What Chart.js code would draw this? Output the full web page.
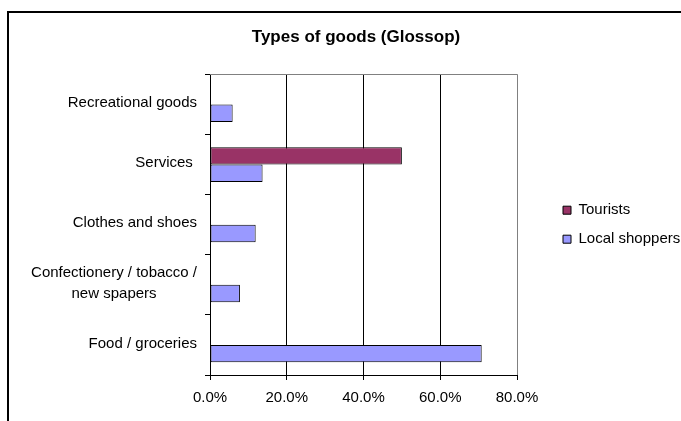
<!DOCTYPE html>
<html>
<head>
<meta charset="utf-8">
<title>Types of goods (Glossop)</title>
<style>
  html, body { margin: 0; padding: 0; overflow: hidden; background: #fff; }
  canvas { display: block; }
</style>
<script src="https://cdn.jsdelivr.net/npm/chart.js@4/dist/chart.umd.min.js"></script>
</head>
<body>
<canvas id="goods" width="712" height="421"></canvas>
<script>
// Categories, top to bottom
const categories = [
  'Recreational goods',
  'Services ',
  'Clothes and shoes',
  ['Confectionery / tobacco /', 'new spapers'],
  'Food / groceries'
];
// Share of respondents buying each type of goods (%)
const tourists = [0, 50, 0, 0, 0];
const localShoppers = [5.9, 13.7, 11.9, 7.8, 70.8];
// Value axis ticks (%)
const xTicks = [0, 20, 40, 60, 80];

const FONT = "'Liberation Sans', Arial, Helvetica, sans-serif";
const LABEL_SIZE = 15;
const LABEL_LINE = 21;     // line spacing of wrapped category labels
const LABEL_PAD = 8;       // gap between category labels and tick marks
const LEGEND_GAP = 32;     // space between plot and legend
const LEGEND_WIDTH = 163;

// Outer chart frame and white background
const chartFrame = {
  id: 'chartFrame',
  beforeDraw(chart) {
    const ctx = chart.ctx;
    ctx.save();
    ctx.fillStyle = '#fff';
    ctx.fillRect(0, 0, chart.width, chart.height);
    ctx.strokeStyle = '#000';
    ctx.lineWidth = 2;
    ctx.strokeRect(8, 12, chart.width + 40, chart.height + 40);
    ctx.restore();
  }
};

// Grey top edge of the plot area
const plotEdge = {
  id: 'plotEdge',
  beforeDatasetsDraw(chart) {
    const {ctx, chartArea: a} = chart;
    ctx.save();
    ctx.strokeStyle = '#808080';
    ctx.lineWidth = 1;
    ctx.beginPath();
    ctx.moveTo(a.left, Math.round(a.top) + 0.5);
    ctx.lineTo(a.right + 0.5, Math.round(a.top) + 0.5);
    ctx.stroke();
    ctx.restore();
  }
};

// Category labels: block right-aligned to the axis, wrapped lines centred on each other
const categoryLabels = {
  id: 'categoryLabels',
  afterDraw(chart) {
    const scale = chart.scales.y;
    const ctx = chart.ctx;
    const right = scale.right - scale.options.grid.tickLength - LABEL_PAD;
    ctx.save();
    ctx.font = LABEL_SIZE + 'px ' + FONT;
    ctx.fillStyle = '#000';
    ctx.textAlign = 'center';
    ctx.textBaseline = 'middle';
    categories.forEach((label, i) => {
      const lines = [].concat(label);
      const widest = Math.max(...lines.map(l => ctx.measureText(l).width));
      const cx = right - widest / 2;
      const cy = scale.getPixelForValue(i) - 1.5;
      lines.forEach((line, k) => {
        ctx.fillText(line, cx, cy + (k - (lines.length - 1) / 2) * LABEL_LINE);
      });
    });
    ctx.restore();
  }
};

// Spacer box between plot and legend, and a fixed legend column width
const legendSpacing = {
  id: 'legendSpacing',
  beforeInit(chart) {
    Chart.layouts.addBox(chart, {
      position: 'right', weight: 1, fullSize: false, options: {},
      left: 0, top: 0, right: 0, bottom: 0, width: 0, height: 0,
      isHorizontal() { return false; },
      update(maxWidth, maxHeight) { this.width = LEGEND_GAP; this.height = maxHeight; },
      draw() {}
    });
  },
  beforeLayout(chart) {
    const legend = chart.legend;
    if (legend && !legend._fixedWidth) {
      const fit = legend.fit.bind(legend);
      legend.fit = function () { fit(); legend.width = LEGEND_WIDTH; };
      legend._fixedWidth = true;
    }
  }
};

new Chart(document.getElementById('goods'), {
  type: 'bar',
  data: {
    labels: categories,
    datasets: [
      {
        label: 'Tourists',
        data: tourists,
        backgroundColor: '#993366',
        borderColor: '#000',
        borderWidth: 1,
        borderSkipped: false,
        inflateAmount: 0
      },
      {
        label: 'Local shoppers',
        data: localShoppers,
        backgroundColor: '#9999FF',
        borderColor: '#000',
        borderWidth: 1,
        borderSkipped: false,
        inflateAmount: 0
      }
    ]
  },
  options: {
    indexAxis: 'y',
    responsive: false,
    animation: false,
    devicePixelRatio: 1,
    categoryPercentage: 0.58,
    barPercentage: 1,
    layout: { padding: 0 },
    plugins: {
      title: {
        display: true,
        text: 'Types of goods (Glossop)',
        color: '#000',
        font: { family: FONT, size: 17, weight: 'bold' },
        padding: { top: 27, bottom: 27 }
      },
      legend: {
        position: 'right',
        fullSize: false,
        align: 'center',
        labels: {
          color: '#000',
          font: { family: FONT, size: 15 },
          boxWidth: 8,
          boxHeight: 8,
          padding: 14
        }
      },
      tooltip: { enabled: false }
    },
    scales: {
      x: {
        min: xTicks[0],
        max: xTicks[xTicks.length - 1],
        afterBuildTicks(scale) { scale.ticks = xTicks.map(v => ({ value: v })); },
        ticks: {
          color: '#000',
          font: { family: FONT, size: LABEL_SIZE },
          padding: 9,
          maxRotation: 0,
          callback: v => Number(v).toFixed(1) + '%'
        },
        grid: {
          color: c => (c.tick && c.tick.value === xTicks[xTicks.length - 1]) ? '#808080' : '#000',
          tickColor: '#000',
          tickLength: 5,
          lineWidth: 1
        },
        border: { color: '#000', width: 1 },
        afterFit(scale) { scale.height = 46; }
      },
      y: {
        ticks: { display: false },
        grid: {
          drawOnChartArea: false,
          offset: true,
          tickLength: 5,
          tickColor: '#000'
        },
        border: { color: '#000', width: 1 },
        afterFit(scale) { scale.width = 210; }
      }
    }
  },
  plugins: [chartFrame, plotEdge, categoryLabels, legendSpacing]
});
</script>
</body>
</html>
